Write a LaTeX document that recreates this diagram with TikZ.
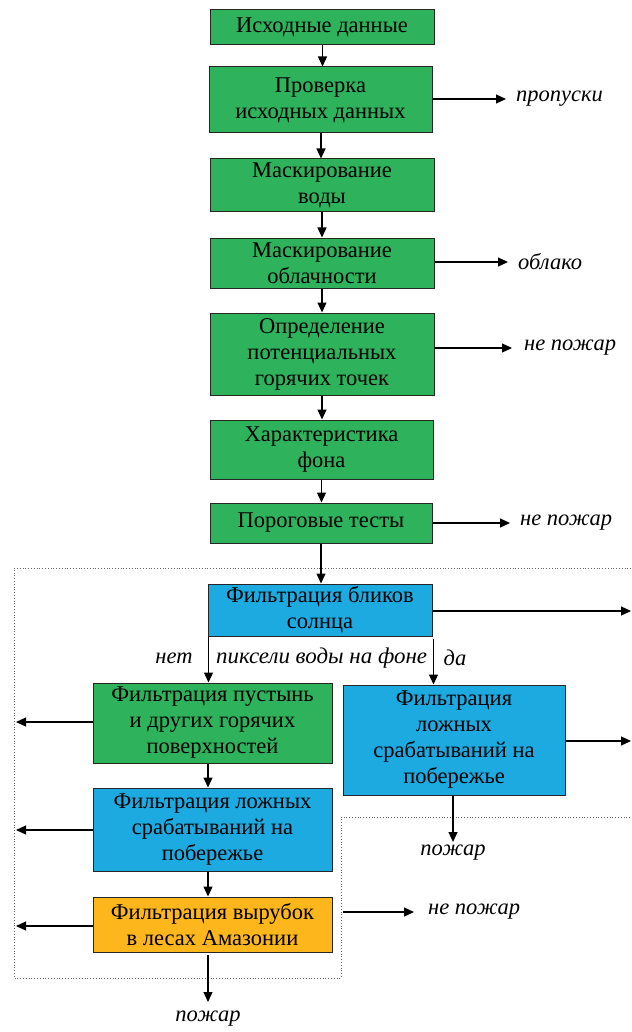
\documentclass[tikz,border=0pt]{standalone}
\usepackage{fontspec}
\setmainfont{Liberation Serif}
\usetikzlibrary{arrows.meta}
\definecolor{bgreen}{RGB}{46,178,92}
\definecolor{bblue}{RGB}{28,170,225}
\definecolor{borange}{RGB}{253,182,28}
\tikzset{
  box/.style={draw=black!85, line width=1pt, align=center, inner sep=0pt, anchor=center,
    font=\fontsize{22.5}{26}\selectfont},
  gbox/.style={box, fill=bgreen},
  blbox/.style={box, fill=bblue},
  obox/.style={box, fill=borange},
  lab/.style={font=\fontsize{22.5}{26}\selectfont\itshape, inner sep=0pt},
  arr/.style={line width=1.2pt, -{Triangle[length=10pt,width=9pt]}},
  frame/.style={draw=black!60, dotted, line width=0.8pt}
}
\begin{document}
\begin{tikzpicture}[x=1pt,y=-1pt]
\useasboundingbox (0,0) rectangle (631,1032);
% main column
\node[gbox, minimum width=224, minimum height=35] (b1) at (322,27.5) {Исходные данные};
\node[gbox, minimum width=223, minimum height=66] (b2) at (320.5,100) {Проверка\\исходных данных};
\node[gbox, minimum width=224, minimum height=53] (b3) at (322,185.5) {Маскирование\\воды};
\node[gbox, minimum width=224, minimum height=50] (b4) at (322,263) {Маскирование\\облачности};
\node[gbox, minimum width=224, minimum height=82] (b5) at (322,354) {Определение\\потенциальных\\горячих точек};
\node[gbox, minimum width=223, minimum height=59] (b6) at (321.5,449.5) {Характеристика\\фона};
\node[gbox, minimum width=222, minimum height=40] (b7) at (321,523) {Пороговые тесты};
% filter boxes
\node[blbox, minimum width=224, minimum height=52] (f1) at (320,610) {Фильтрация бликов\\солнца};
\node[gbox, minimum width=239, minimum height=80] (f2) at (212.5,723) {Фильтрация пустынь\\и других горячих\\поверхностей};
\node[blbox, minimum width=222, minimum height=110] (f3) at (454,740) {Фильтрация\\ложных\\срабатываний на\\побережье};
\node[blbox, minimum width=239, minimum height=83] (f4) at (212.5,829.5) {Фильтрация ложных\\срабатываний на\\побережье};
\node[obox, minimum width=239, minimum height=55] (f5) at (212.5,924.5) {Фильтрация вырубок\\в лесах Амазонии};
% outputs
\node[lab, anchor=west] (o1) at (516,99) {пропуски};
\node[lab, anchor=west] (o2) at (518,262) {облако};
\node[lab, anchor=west] (o3) at (524,348) {не пожар};
\node[lab, anchor=west] (o4) at (520,523) {не пожар};
\node[lab, anchor=west] (o5) at (428,912) {не пожар};
\node[lab] (o6) at (453,853) {пожар};
\node[lab] (o7) at (208,1019) {пожар};
\node[lab] (lno) at (174,658) {нет};
\node[lab, anchor=west] (lpix) at (216,658) {\scalebox{1.02}[1]{пиксели воды на фоне}};
\node[lab] (lyes) at (455,658) {да};
% coordinates
\coordinate (e1) at (631,611);
\coordinate (e2) at (631,741);
\coordinate (w2) at (16,722);
\coordinate (w4) at (16,830);
\coordinate (w5) at (16,926);
\coordinate (n5) at (343,912);
\coordinate (n5e) at (414,912);
\coordinate (p6) at (453,842);
\coordinate (p7) at (208,1002);
% dotted frame
\draw[frame] (631,568) -- (14,568) -- (14,978) -- (341,978) -- (341,817) -- (631,817);
% arrows in column
\draw[arr] ([xshift=0.5pt]b1.south) -- ([xshift=0.5pt]b1.south |- b2.north);
\draw[arr] ([xshift=0.5pt]b2.south) -- ([xshift=0.5pt]b2.south |- b3.north);
\draw[arr] (b3.south) -- (b3.south |- b4.north);
\draw[arr] (b4.south) -- (b4.south |- b5.north);
\draw[arr] (b5.south) -- (b5.south |- b6.north);
\draw[arr] (b6.south) -- (b6.south |- b7.north);
\draw[arr] (b7.south) -- (b7.south |- f1.north);
\draw[arr] (b2.east |- o1.west) -- ([xshift=-10pt]o1.west);
\draw[arr] (b4.east |- o2.west) -- ([xshift=-10pt]o2.west);
\draw[arr] (b5.east |- o3.west) -- ([xshift=-12pt]o3.west);
\draw[arr] (b7.east |- o4.west) -- ([xshift=-10pt]o4.west);
% filter arrows
\draw[arr] ([xshift=1pt]f1.south west) -- ([xshift=1pt]f1.south west |- f2.north);
\draw[arr] ([xshift=1pt,yshift=-2pt]f1.south east) -- ([xshift=1pt]f1.south east |- f3.north);
\draw[arr] (f1.east |- e1) -- (e1);
\draw[arr] (f3.east |- e2) -- (e2);
\draw[arr] (f2.west |- w2) -- (w2);
\draw[arr] (f4.west |- w4) -- (w4);
\draw[arr] (f5.west |- w5) -- (w5);
\draw[arr] ([xshift=-4.5pt]f2.south) -- ([xshift=-4.5pt]f4.north);
\draw[arr] ([xshift=-4.5pt]f4.south) -- ([xshift=-4.5pt]f5.north);
\draw[arr] ([xshift=-4.5pt,yshift=-2pt]f5.south) -- (p7);
\draw[arr] ([xshift=-1pt]f3.south) -- (p6);
\draw[arr] (n5) -- (n5e);
\end{tikzpicture}
\end{document}
